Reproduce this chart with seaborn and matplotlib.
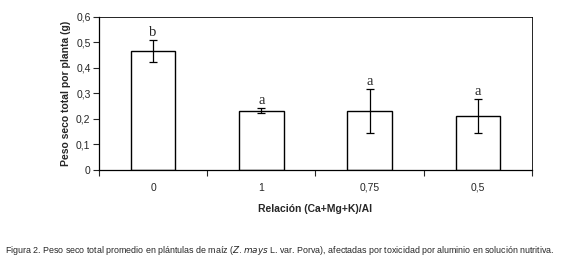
import matplotlib
matplotlib.use("Agg")
import matplotlib.pyplot as plt
import numpy as np
import pandas as pd
import seaborn as sns
from matplotlib.ticker import FixedLocator, FuncFormatter

# data
ratios = ["0", "1", "0,75", "0,5"]
dry_weight = [0.466, 0.233, 0.233, 0.211]
err_low = [0.424, 0.222, 0.146, 0.144]
err_high = [0.509, 0.242, 0.316, 0.278]
letters = ["b", "a", "a", "a"]
y_ticks = [0.0, 0.1, 0.2, 0.3, 0.4, 0.5, 0.6]

sns.set_theme(style="white")
plt.rcParams["font.family"] = ["Liberation Sans", "DejaVu Sans"]
plt.rcParams["mathtext.fontset"] = "custom"
plt.rcParams["mathtext.rm"] = "Liberation Sans Narrow"
plt.rcParams["mathtext.it"] = "Liberation Sans Narrow:italic"

df = pd.DataFrame({"ratio": ratios, "peso": dry_weight})

fig = plt.figure(figsize=(5.72, 2.64), dpi=100)
ax = fig.add_axes([0.173, 0.356, 0.757, 0.580])

sns.barplot(data=df, x="ratio", y="peso", order=ratios, color="white",
            edgecolor="black", linewidth=1.0, width=0.41, errorbar=None, ax=ax)

x = np.arange(len(ratios))
mean = np.array(dry_weight)
yerr = np.vstack([mean - np.array(err_low), np.array(err_high) - mean])
ax.errorbar(x, mean, yerr=yerr, fmt="none", ecolor="black", elinewidth=0.9,
            capsize=3, capthick=0.9)

for xi, top, lab in zip(x, err_high, letters):
    ax.text(xi, top + 0.004, lab, ha="center", va="bottom", fontsize=10.5,
            family=["Liberation Serif", "DejaVu Serif"])

ax.set_xlim(-0.5, len(ratios) - 0.5)
ax.set_ylim(0, 0.6)
ax.yaxis.set_major_locator(FixedLocator(y_ticks))
ax.yaxis.set_major_formatter(FuncFormatter(lambda v, p: "0" if v == 0 else f"{v:.1f}".replace(".", ",")))
ax.set_xticks(x)
ax.set_xticklabels(ratios)
ax.set_xticks(np.arange(-0.5, len(ratios)), minor=True)
ax.tick_params(axis="x", which="major", length=0, pad=9, labelsize=7.5)
ax.tick_params(axis="x", which="minor", length=4, width=0.8, direction="out", bottom=True)
ax.tick_params(axis="y", length=4, width=0.8, direction="out", left=True, labelsize=7.5, pad=2)

for side in ["left", "bottom", "top", "right"]:
    ax.spines[side].set_visible(True)
    ax.spines[side].set_color("black")
    ax.spines[side].set_linewidth(0.9)
ax.spines["top"].set_linewidth(0.6)
ax.spines["right"].set_linewidth(0.6)

ax.set_xlabel("Relación (Ca+Mg+K)/Al", fontsize=7.5, fontweight="bold", labelpad=8)
ax.set_ylabel("Peso seco total por planta (g)", fontsize=7.5, fontweight="bold", labelpad=4)

fig.text(0.009, 0.052,
         "Figura 2. Peso seco total promedio en plántulas de maíz ($\\it{Z.}$$\\it{mays}$ L. var. Porva), "
         "afectadas por toxicidad por aluminio en solución nutritiva.",
         fontsize=6.4, family=["Liberation Sans Narrow", "Liberation Sans", "DejaVu Sans"],
         ha="left", va="center")

fig.savefig("out.png", dpi=100, facecolor="white")
